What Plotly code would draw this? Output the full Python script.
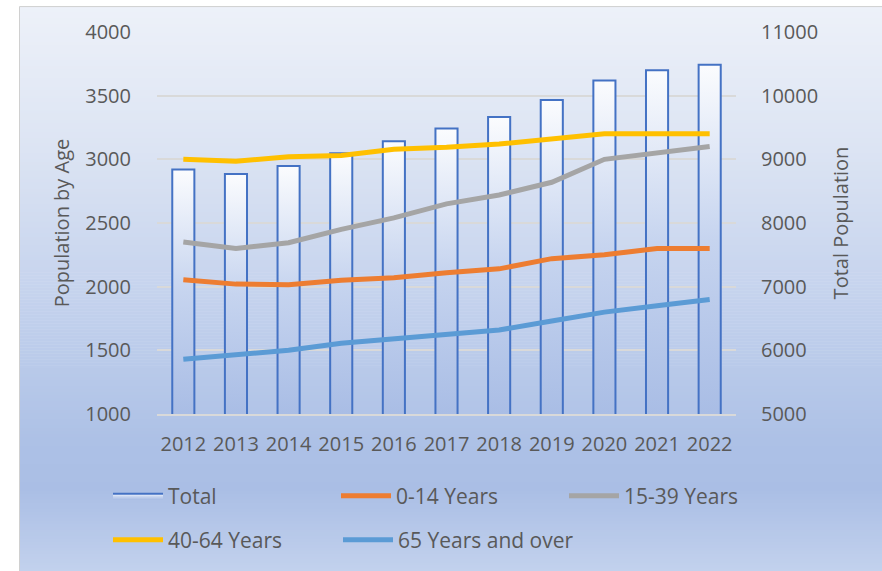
import plotly.graph_objects as go

# ---- data -------------------------------------------------------------
years = ["2012", "2013", "2014", "2015", "2016", "2017",
         "2018", "2019", "2020", "2021", "2022"]
total_population = [8840, 8770, 8895, 9095, 9285, 9485,
                    9665, 9930, 10240, 10400, 10485]
age_0_14 = [2055, 2020, 2015, 2050, 2070, 2110, 2140, 2220, 2250, 2300, 2300]
age_15_39 = [2350, 2300, 2345, 2450, 2540, 2650, 2720, 2820, 3000, 3050, 3100]
age_40_64 = [3000, 2985, 3020, 3030, 3080, 3095, 3120, 3160, 3200, 3200, 3200]
age_65_plus = [1430, 1465, 1500, 1555, 1590, 1620, 1660, 1730, 1800, 1850, 1900]

left_range = [1000, 4000]
right_range = [5000, 11000]

# ---- styling ----------------------------------------------------------
W, H = 882, 571
M_L, M_R, M_T, M_B = 157, 146, 32, 156
PW, PH = W - M_L - M_R, H - M_T - M_B
FONT = "Open Sans"
TXT = "#595959"
GRID = "#d9d9d9"
BAR_LINE = "#4472C4"
BAR_HALF = 0.21

line_series = [
    ("0-14 Years", age_0_14, "#ED7D31", "legend"),
    ("15-39 Years", age_15_39, "#A5A5A5", "legend"),
    ("40-64 Years", age_40_64, "#FFC000", "legend2"),
    ("65 Years and over", age_65_plus, "#5B9BD5", "legend3"),
]


def px_x(X):
    return (X - M_L) / PW


def px_y(Y):
    return (H - M_B - Y) / PH


def hex_rgb(h):
    h = h.lstrip("#")
    return tuple(int(h[i:i + 2], 16) for i in (0, 2, 4))


def blend(stops, Y):
    for (y0, c0), (y1, c1) in zip(stops, stops[1:]):
        if y0 <= Y <= y1:
            t = (Y - y0) / (y1 - y0) if y1 > y0 else 0
            a, b = hex_rgb(c0), hex_rgb(c1)
            return "rgb(%d,%d,%d)" % tuple(round(a[k] + (b[k] - a[k]) * t) for k in range(3))
    return stops[-1][1]


# vertical background gradient for the chart area
bg_stops = [(6, "#edf1f9"), (150, "#dce4f3"), (300, "#c4d2ed"),
            (440, "#adc1e6"), (490, "#aabee5"), (571, "#c2d1ed")]

shapes = []
STEP = 3
for Y in range(6, H, STEP):
    shapes.append(dict(
        type="rect", xref="paper", yref="paper", layer="below",
        x0=px_x(19.5), x1=px_x(W + 10), y0=px_y(Y + STEP + 0.5), y1=px_y(Y),
        line=dict(width=0), fillcolor=blend(bg_stops, Y + STEP / 2),
    ))
shapes.append(dict(
    type="rect", xref="paper", yref="paper", layer="below",
    x0=px_x(19.5), x1=px_x(W + 10), y0=px_y(H + 10), y1=px_y(6.5),
    line=dict(width=1, color="#d0d0d0"), fillcolor="rgba(0,0,0,0)",
))

fig = go.Figure()

# Total population columns (right axis), each with its own vertical gradient
bar_scale = [[0, "#a9bde5"], [0.5, "#c6d4ef"], [1, "#fbfcfe"]]
for i, v in enumerate(total_population):
    base = right_range[0]
    fig.add_trace(go.Scatter(
        x=[i - BAR_HALF, i - BAR_HALF, i + BAR_HALF, i + BAR_HALF],
        y=[base, v, v, base],
        mode="lines", fill="toself",
        fillgradient=dict(type="vertical", colorscale=bar_scale),
        line=dict(color=BAR_LINE, width=2),
        name="Total", legendgroup="total", showlegend=(i == 0),
        legend="legend", yaxis="y", hoverinfo="skip",
    ))

# age-group lines (left axis)
x_idx = list(range(len(years)))
for name, vals, color, leg in line_series:
    fig.add_trace(go.Scatter(
        x=x_idx, y=vals, mode="lines", name=name,
        line=dict(color=color, width=5, shape="linear"),
        yaxis="y2", legend=leg,
    ))

tick_font = dict(family=FONT, size=20, color=TXT)
legend_common = dict(
    orientation="h", xanchor="left", yanchor="middle",
    font=dict(family=FONT, size=21, color=TXT),
    bgcolor="rgba(0,0,0,0)", itemwidth=50, itemclick=False,
)

fig.update_layout(
    width=W, height=H,
    margin=dict(l=M_L, r=M_R, t=M_T, b=M_B),
    paper_bgcolor="white", plot_bgcolor="rgba(0,0,0,0)",
    font=dict(family=FONT, color=TXT),
    shapes=shapes,
    xaxis=dict(
        range=[-0.5, len(years) - 0.5], tickvals=x_idx, ticktext=years,
        showgrid=False, zeroline=False, showline=True, linecolor=GRID,
        linewidth=1.5, ticks="outside", ticklen=11,
        tickcolor="rgba(0,0,0,0)", tickfont=tick_font,
    ),
    yaxis=dict(
        range=right_range, dtick=1000, side="right", tickformat="d",
        showgrid=True, gridcolor=GRID, gridwidth=1.5, zeroline=False,
        ticks="outside", ticklen=20, tickcolor="rgba(0,0,0,0)",
        tickfont=tick_font,
        title=dict(text="Total Population", font=tick_font, standoff=16),
    ),
    yaxis2=dict(
        range=left_range, dtick=500, side="left", overlaying="y",
        tickformat="d", showgrid=False, zeroline=False,
        ticks="outside", ticklen=21, tickcolor="rgba(0,0,0,0)",
        tickfont=tick_font,
        title=dict(text="Population by Age", font=tick_font, standoff=10),
    ),
    legend=dict(x=px_x(108), y=px_y(496), entrywidth=163,
                entrywidthmode="pixels", **legend_common),
    legend2=dict(x=px_x(108), y=px_y(540), **legend_common),
    legend3=dict(x=px_x(338), y=px_y(540), **legend_common),
)

fig.write_html("out.html")
